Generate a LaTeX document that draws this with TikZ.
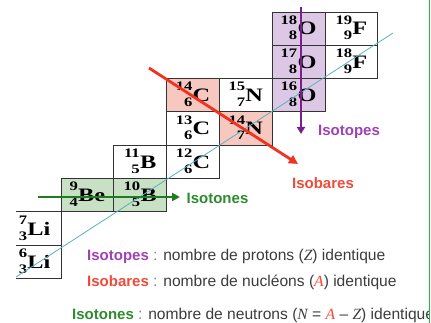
\documentclass[tikz,border=0pt]{standalone}
\usepackage{fontspec}
\setmainfont{Liberation Sans}
\newfontfamily\cellfont{Liberation Serif}[FakeStretch=1.28]
\newfontfamily\varfont{Liberation Serif}
\usetikzlibrary{arrows.meta,positioning}
\definecolor{isotopefill}{HTML}{DCC8E4}
\definecolor{isobarefill}{HTML}{F7C8C0}
\definecolor{isotonefill}{HTML}{C8E0C4}
\definecolor{isotopeline}{HTML}{7B1F8C}
\definecolor{isobareline}{HTML}{F0321E}
\definecolor{isotoneline}{HTML}{1E7B1E}
\definecolor{isotopetext}{HTML}{A040B4}
\definecolor{isobaretext}{HTML}{F04A38}
\definecolor{isotonetext}{HTML}{2E8B2E}
\definecolor{diagline}{HTML}{5BB0C2}
\definecolor{framegreen}{HTML}{22C03A}
\definecolor{bodytext}{HTML}{3C3C3C}

% nuclide: mass number over atomic number, right aligned, then the symbol
\newcommand{\nuc}[3]{{\fontsize{13}{13}\selectfont
  \setbox0\hbox{#1}\setbox2\hbox{#2}%
  \ifdim\wd2>\wd0 \setbox0\hbox to\wd2{\hss#1}\fi
  \smash{\raise10.5pt\copy0}\smash{\llap{\lower5pt\box2}}}\kern0.3pt#3}
\newcommand{\mvar}[1]{{\varfont\itshape #1}}

\begin{document}
\begin{tikzpicture}[x=1pt,y=-1pt,
  cell/.style={draw=black!80,line width=0.8pt,minimum width=52.8pt,
               minimum height=33.3pt,inner sep=0pt,
               font=\cellfont\bfseries\fontsize{19}{19}\selectfont},
  lbl/.style={inner sep=0pt,font=\bfseries\fontsize{15}{15}\selectfont},
  defline/.style={inner sep=0pt,anchor=west,text=bodytext,
                  font=\fontsize{15.6}{16}\selectfont}]
  \useasboundingbox (0,0) rectangle (431,323);

  % chart of nuclides (Z to the right, N upwards)
  \begin{scope}
    \clip (16,0) rectangle (431,323);
    \foreach \el/\z/\a/\col in {Li/3/6/white,Li/3/7/white,
        Be/4/9/isotonefill,B/5/10/isotonefill,B/5/11/white,
        C/6/12/white,C/6/13/white,C/6/14/isobarefill,
        N/7/14/isobarefill,N/7/15/white,
        O/8/16/isotopefill,O/8/17/isotopefill,O/8/18/isotopefill,
        F/9/18/white,F/9/19/white}
      \node[cell,fill=\col] (\el\a) at ({34.6+52.8*(\z-3)},{28.65+33.3*(10-\a+\z)})
        {\nuc{\a}{\z}{\el}};
  \end{scope}

  % stability line
  \coordinate (diag-low) at (16,277);
  \coordinate (diag-high) at (393,33);
  \draw[diagline,line width=0.8pt] (diag-low) -- (diag-high);

  % arrows
  \coordinate (isotope-start) at (301,7);
  \coordinate (isotope-end) at (301,134);
  \coordinate (isobare-start) at (149,68);
  \coordinate (isobare-end) at (298,164);
  \coordinate (isotone-start) at (38,197);
  \coordinate (isotone-end) at (180,197);
  \draw[isotopeline,line width=2.2pt,-{Triangle[length=7pt,width=8pt]}]
    (isotope-start) -- (isotope-end);
  \draw[isobareline,line width=2.8pt,-{Triangle[length=9pt,width=9pt]}]
    (isobare-start) -- (isobare-end);
  \draw[isotoneline,line width=2.6pt,-{Triangle[length=8pt,width=8pt]}]
    (isotone-start) -- (isotone-end);

  \node[lbl,text=isotopetext] (isotopes-lbl) at (349,132) {Isotopes};
  \node[lbl,text=isobaretext] (isobares-lbl) at (323,183) {Isobares};
  \node[lbl,text=isotonetext] (isotones-lbl) at (217.5,198) {Isotones};

  % definitions
  \begin{scope}
    \clip (0,0) rectangle (429,323);
    \node[defline] (isotopes-def) at (87,256)
      {\textcolor{isotopetext}{\fontsize{15}{15}\selectfont\textbf{Isotopes}} \textcolor{gray}{:} nombre de protons (\mvar{Z}) identique};
    \node[defline] (isobares-def) at (87,282)
      {\textcolor{isobaretext}{\fontsize{15}{15}\selectfont\textbf{Isobares}} \textcolor{gray}{:} nombre de nucléons (\textcolor{isobaretext}{\mvar{A}}) identique};
    \node[defline] (isotones-def) at (72,315)
      {\textcolor{isotonetext}{\fontsize{15}{15}\selectfont\textbf{Isotones}} \textcolor{gray}{:} nombre de neutrons (\mvar{N} = \textcolor{isobaretext}{\mvar{A}} – \mvar{Z}) identique};
  \end{scope}

  \draw[framegreen,line width=1.5pt] (429.5,0) -- (429.5,323);
\end{tikzpicture}
\end{document}
